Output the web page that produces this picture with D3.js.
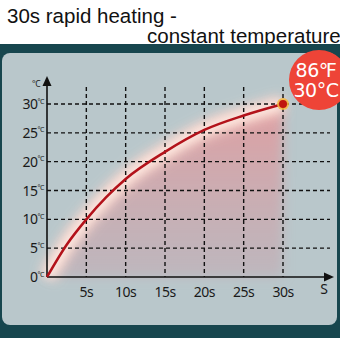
<!DOCTYPE html>
<html><head><meta charset="utf-8">
<script src="https://cdn.jsdelivr.net/npm/d3@7"></script>
<style>html,body{margin:0;padding:0;background:#fff;}svg{display:block;}</style>
</head><body>
<svg id="c" width="340" height="340"></svg>
<script>
const titleLines = ["30s rapid heating -", "constant temperature"];
const timeTicks = [5, 10, 15, 20, 25, 30];
const tempTicks = [0, 5, 10, 15, 20, 25, 30];
const times = [0, 2.5, 5, 7.5, 10, 15, 20, 25, 30];
const temps = [0, 5.6, 10, 13.8, 17, 21.7, 25.5, 28, 30];
const badgeLines = ["86℉", "30°C"];

const svg = d3.select("#c");
const defs = svg.append("defs");
defs.append("filter").attr("id","blur").attr("x","-20%").attr("y","-20%").attr("width","140%").attr("height","140%")
  .append("feGaussianBlur").attr("stdDeviation", 6);
defs.append("filter").attr("id","blur2").attr("x","-20%").attr("y","-20%").attr("width","140%").attr("height","140%")
  .append("feGaussianBlur").attr("stdDeviation", 4);
const grad = defs.append("linearGradient").attr("id","ag").attr("x1",0).attr("x2",0).attr("y1",0).attr("y2",1);
grad.append("stop").attr("offset","0%").attr("stop-color","#e99598").attr("stop-opacity",0.8);
grad.append("stop").attr("offset","100%").attr("stop-color","#c4a3ac").attr("stop-opacity",0.45);

// title
const tf = "Liberation Sans, Arial, sans-serif";
svg.append("text").attr("x",7).attr("y",23).attr("font-family",tf)
  .attr("font-size",20.5).attr("fill","#111").text(titleLines[0]);
svg.append("text").attr("x",147).attr("y",43).attr("font-family",tf)
  .attr("font-size",20.5).attr("fill","#111").text(titleLines[1]);

// frame
svg.append("rect").attr("x",0).attr("y",44).attr("width",340).attr("height",296).attr("fill","#17464e");
svg.append("rect").attr("x",0).attr("y",338).attr("width",340).attr("height",2).attr("fill","#fff");
svg.append("rect").attr("x",2).attr("y",53).attr("width",335).attr("height",272).attr("rx",8).attr("fill","#b9c7cb");

const x = d3.scaleLinear().domain([0,30]).range([47,283]);
const y = d3.scaleLinear().domain([0,30]).range([277,104]);
const data = times.map((t,i)=>({t, v: temps[i]}));

// area glow
const area = d3.area().x(d=>x(d.t)).y0(y(0)).y1(d=>y(d.v)).curve(d3.curveMonotoneX);
svg.append("path").datum(data).attr("d",area).attr("fill","url(#ag)").attr("filter","url(#blur)");
const line = d3.line().x(d=>x(d.t)).y(d=>y(d.v)).curve(d3.curveMonotoneX);
svg.append("path").datum(data).attr("d",line).attr("fill","none").attr("stroke","#ffd9cf").attr("stroke-width",18).attr("opacity",0.9).attr("filter","url(#blur)");
svg.append("path").datum(data).attr("d",line).attr("fill","none").attr("stroke","#fff1ea").attr("stroke-width",6).attr("opacity",0.9).attr("filter","url(#blur2)");

// grid
const fontF = "Noto Sans, DejaVu Sans, sans-serif";
const g = svg.append("g");
g.selectAll("line.v").data(timeTicks).join("line")
  .attr("x1",d=>x(d)).attr("x2",d=>x(d)).attr("y1",87).attr("y2",y(0))
  .attr("stroke","#111").attr("stroke-width",1.4).attr("stroke-dasharray","4,3");
g.selectAll("line.h").data(tempTicks.filter(d=>d>0)).join("line")
  .attr("x1",x(0)).attr("x2",330).attr("y1",d=>y(d)).attr("y2",d=>y(d))
  .attr("stroke","#111").attr("stroke-width",1.4).attr("stroke-dasharray","4,3");

// axes
svg.append("line").attr("x1",x(0)).attr("x2",326).attr("y1",y(0)).attr("y2",y(0)).attr("stroke","#111").attr("stroke-width",1.6);
svg.append("path").attr("d",`M334,${y(0)} L324,${y(0)-4.5} L324,${y(0)+4.5} Z`).attr("fill","#111");
svg.append("line").attr("x1",x(0)).attr("x2",x(0)).attr("y1",y(0)).attr("y2",84).attr("stroke","#111").attr("stroke-width",1.6);
svg.append("path").attr("d",`M${x(0)},76 L${x(0)-4.5},86 L${x(0)+4.5},86 Z`).attr("fill","#111");

// curve
svg.append("path").datum(data).attr("d",line).attr("fill","none").attr("stroke","#b3121a").attr("stroke-width",2.5);
svg.append("circle").attr("cx",x(30)).attr("cy",y(30)).attr("r",6).attr("fill","#f6b63c").attr("opacity",0.85);
svg.append("circle").attr("cx",x(30)).attr("cy",y(30)).attr("r",4).attr("fill","#c0140f");

// tick labels
svg.selectAll("text.yl").data(tempTicks).join("text")
  .attr("x",37.5).attr("y",d=>y(d)+5).attr("text-anchor","end")
  .attr("font-family",fontF).attr("font-size",14).attr("letter-spacing",-0.5).attr("fill","#1a1a1a").text(d=>d);
svg.selectAll("text.yu").data(tempTicks).join("text")
  .attr("x",37.5).attr("y",d=>y(d)-0.5).attr("font-family",fontF).attr("font-size",7).attr("letter-spacing",-0.6).attr("fill","#1a1a1a").text("°C");
svg.append("text").attr("x",32).attr("y",87).attr("font-family",fontF).attr("font-size",8.5).attr("letter-spacing",-0.5).attr("fill","#1a1a1a").text("°C");

svg.selectAll("text.xl").data(timeTicks).join("text")
  .attr("x",d=>x(d)).attr("y",y(0)+20).attr("text-anchor","middle")
  .attr("font-family",fontF).attr("font-size",14).attr("letter-spacing",-0.5).attr("fill","#1a1a1a").text(d=>d+"s");
svg.append("text").attr("x",324).attr("y",y(0)+17).attr("text-anchor","middle")
  .attr("font-family",fontF).attr("font-size",14).attr("fill","#1a1a1a").text("S");

// badge
svg.append("circle").attr("cx",319).attr("cy",80).attr("r",30).attr("fill","#ee4437");
svg.selectAll("text.b").data(badgeLines).join("text")
  .attr("x",316).attr("y",(d,i)=>77+i*20).attr("text-anchor","middle")
  .attr("font-family","DejaVu Sans, sans-serif").attr("font-size",19).attr("letter-spacing",-0.5).attr("fill","#fff").text(d=>d);
</script>
</body></html>
